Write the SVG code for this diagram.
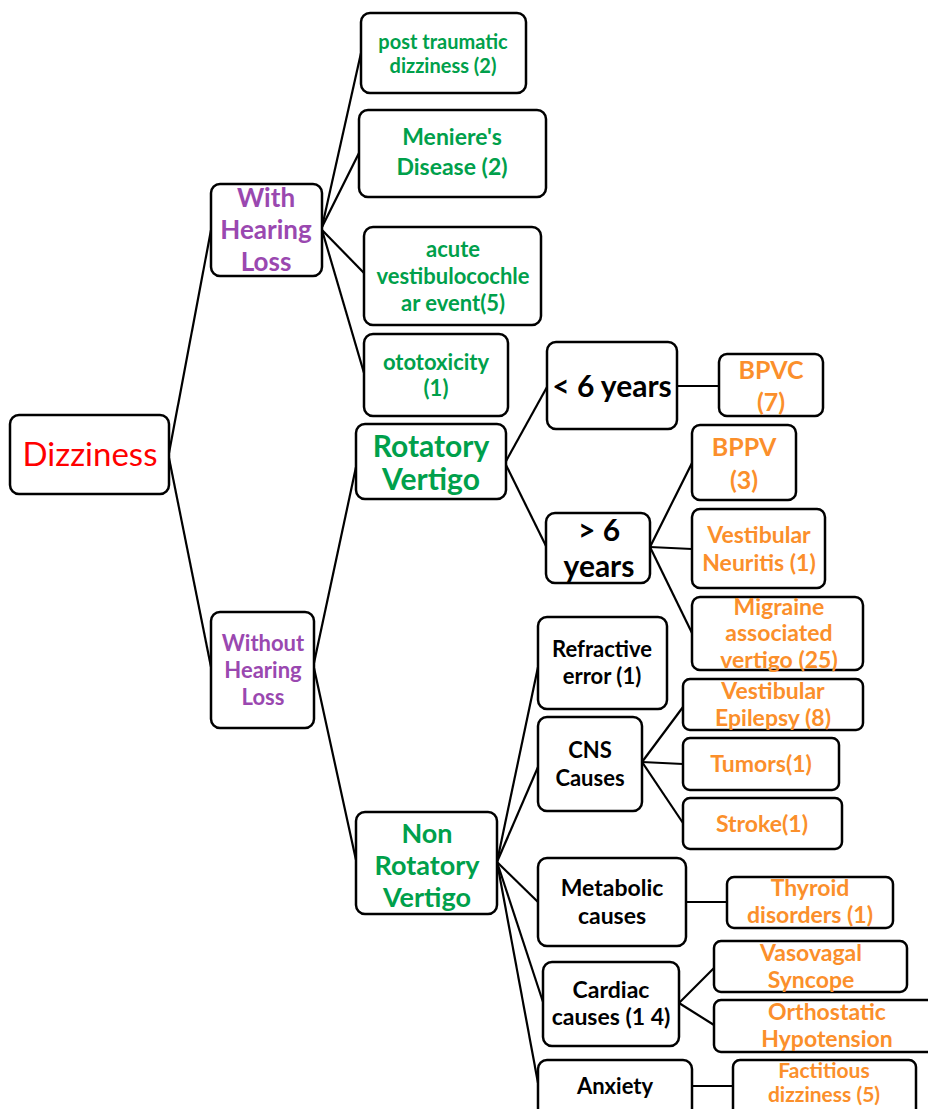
<svg xmlns="http://www.w3.org/2000/svg" width="928" height="1109" viewBox="0 0 928 1109">
<style>
.box{fill:#fff;stroke:#000;stroke-width:2.5}
.c{stroke:#000;stroke-width:2.2;fill:none}
text{font-family:Lato,"Liberation Sans",sans-serif;font-weight:bold;text-anchor:middle}
.r{fill:#ff0000;font-weight:normal}
.p{fill:#9a48b0}
.g{fill:#00a04b}
.o{fill:#fb8f2b}
.k{fill:#000}
</style>
<rect width="928" height="1109" fill="#fff"/>
<g id="connectors">
<line class="c" x1="169" y1="453" x2="211" y2="230"/>
<line class="c" x1="169" y1="458" x2="211" y2="667"/>
<line class="c" x1="322" y1="227" x2="361" y2="53"/>
<line class="c" x1="322" y1="227" x2="359" y2="153"/>
<line class="c" x1="322" y1="230" x2="364" y2="273"/>
<line class="c" x1="322" y1="230" x2="364" y2="373"/>
<line class="c" x1="314" y1="663" x2="356" y2="467"/>
<line class="c" x1="314" y1="668" x2="356" y2="860"/>
<line class="c" x1="505" y1="463" x2="547" y2="387"/>
<line class="c" x1="505" y1="463" x2="547" y2="548"/>
<line class="c" x1="677" y1="386" x2="719" y2="386"/>
<line class="c" x1="650" y1="547" x2="692" y2="463"/>
<line class="c" x1="650" y1="547" x2="692" y2="549"/>
<line class="c" x1="650" y1="547" x2="692" y2="633"/>
<line class="c" x1="497" y1="862" x2="538" y2="667"/>
<line class="c" x1="497" y1="862" x2="538" y2="767"/>
<line class="c" x1="497" y1="862" x2="538" y2="902"/>
<line class="c" x1="497" y1="862" x2="543" y2="1002"/>
<line class="c" x1="497" y1="862" x2="538" y2="1083"/>
<line class="c" x1="642" y1="762" x2="683" y2="707"/>
<line class="c" x1="642" y1="762" x2="683" y2="764"/>
<line class="c" x1="642" y1="762" x2="683" y2="823"/>
<line class="c" x1="686" y1="902" x2="727" y2="902"/>
<line class="c" x1="679" y1="1003" x2="714" y2="968"/>
<line class="c" x1="679" y1="1003" x2="714" y2="1025"/>
<line class="c" x1="692" y1="1086" x2="733" y2="1086"/>
</g>
<g id="dizziness"><rect class="box" x="10" y="415" width="159" height="79" rx="9"/><text class="r" x="90" y="466" font-size="33">Dizziness</text></g>
<g id="with-hl"><rect class="box" x="211" y="184" width="111" height="92" rx="9"/><text class="p" font-size="26"><tspan x="266" y="207">With</tspan><tspan x="266" y="239">Hearing</tspan><tspan x="266" y="271">Loss</tspan></text></g>
<g id="without-hl"><rect class="box" x="211" y="612" width="103" height="116" rx="9"/><text class="p" font-size="22"><tspan x="263" y="651">Without</tspan><tspan x="263" y="678">Hearing</tspan><tspan x="263" y="705">Loss</tspan></text></g>
<g id="post-traumatic"><rect class="box" x="361" y="13" width="165" height="80" rx="9"/><text class="g" font-size="20"><tspan x="443" y="49">post traumatic</tspan><tspan x="443" y="73">dizziness (2)</tspan></text></g>
<g id="meniere"><rect class="box" x="359" y="110" width="187" height="87" rx="9"/><text class="g" font-size="23"><tspan x="452" y="145">Meniere's</tspan><tspan x="452" y="175">Disease (2)</tspan></text></g>
<g id="acute"><rect class="box" x="364" y="227" width="177" height="98" rx="9"/><text class="g" font-size="22"><tspan x="453" y="257">acute</tspan><tspan x="453" y="284">vestibulocochle</tspan><tspan x="453" y="311">ar event(5)</tspan></text></g>
<g id="ototoxicity"><rect class="box" x="364" y="334" width="144" height="82" rx="9"/><text class="g" font-size="22"><tspan x="436" y="370">ototoxicity</tspan><tspan x="436" y="396">(1)</tspan></text></g>
<g id="rotatory"><rect class="box" x="356" y="424" width="150" height="75" rx="9"/><text class="g" font-size="30"><tspan x="431" y="457">Rotatory</tspan><tspan x="431" y="490">Vertigo</tspan></text></g>
<g id="non-rotatory"><rect class="box" x="356" y="812" width="141" height="102" rx="9"/><text class="g" font-size="27"><tspan x="427" y="843">Non</tspan><tspan x="427" y="875">Rotatory</tspan><tspan x="427" y="907">Vertigo</tspan></text></g>
<g id="lt6"><rect class="box" x="547" y="342" width="130" height="87" rx="9"/><text class="k" x="612" y="397" font-size="30">&lt; 6 years</text></g>
<g id="gt6"><rect class="box" x="546" y="513" width="104" height="70" rx="9"/><text class="k" font-size="30"><tspan x="599" y="541">&gt; 6</tspan><tspan x="599" y="577">years</tspan></text></g>
<g id="bpvc"><rect class="box" x="719" y="354" width="104" height="62" rx="8"/><text class="o" font-size="25"><tspan x="771" y="379">BPVC</tspan><tspan x="771" y="411">(7)</tspan></text></g>
<g id="bppv"><rect class="box" x="692" y="425" width="104" height="75" rx="8"/><text class="o" font-size="25"><tspan x="744" y="456">BPPV</tspan><tspan x="744" y="489">(3)</tspan></text></g>
<g id="neuritis"><rect class="box" x="692" y="509" width="133" height="79" rx="8"/><text class="o" font-size="23"><tspan x="759" y="543">Vestibular</tspan><tspan x="759" y="571">Neuritis (1)</tspan></text></g>
<g id="migraine"><rect class="box" x="692" y="597" width="171" height="73" rx="8"/><text class="o" font-size="23"><tspan x="779" y="615">Migraine</tspan><tspan x="779" y="641">associated</tspan><tspan x="779" y="668">vertigo (25)</tspan></text></g>
<g id="refractive"><rect class="box" x="538" y="617" width="129" height="92" rx="9"/><text class="k" font-size="22"><tspan x="602" y="657">Refractive</tspan><tspan x="602" y="684">error (1)</tspan></text></g>
<g id="cns"><rect class="box" x="538" y="717" width="104" height="94" rx="9"/><text class="k" font-size="22"><tspan x="590" y="758">CNS</tspan><tspan x="590" y="786">Causes</tspan></text></g>
<g id="epilepsy"><rect class="box" x="683" y="679" width="180" height="51" rx="7"/><text class="o" font-size="23"><tspan x="773" y="699">Vestibular</tspan><tspan x="773" y="726">Epilepsy (8)</tspan></text></g>
<g id="tumors"><rect class="box" x="683" y="738" width="156" height="52" rx="7"/><text class="o" x="761" y="772" font-size="23">Tumors(1)</text></g>
<g id="stroke"><rect class="box" x="683" y="798" width="159" height="51" rx="7"/><text class="o" x="762" y="832" font-size="23">Stroke(1)</text></g>
<g id="metabolic"><rect class="box" x="538" y="858" width="148" height="88" rx="9"/><text class="k" font-size="23"><tspan x="612" y="896">Metabolic</tspan><tspan x="612" y="924">causes</tspan></text></g>
<g id="thyroid"><rect class="box" x="727" y="877" width="166" height="51" rx="7"/><text class="o" font-size="23"><tspan x="810" y="896">Thyroid</tspan><tspan x="810" y="923">disorders (1)</tspan></text></g>
<g id="cardiac"><rect class="box" x="543" y="962" width="136" height="84" rx="9"/><text class="k" font-size="23"><tspan x="611" y="998">Cardiac</tspan><tspan x="611" y="1025">causes (1 4)</tspan></text></g>
<g id="vasovagal"><rect class="box" x="714" y="941" width="193" height="51" rx="7"/><text class="o" font-size="23"><tspan x="811" y="961">Vasovagal</tspan><tspan x="811" y="988">Syncope</tspan></text></g>
<g id="orthostatic"><rect class="box" x="714" y="1000" width="230" height="52" rx="7"/><text class="o" font-size="23"><tspan x="827" y="1020">Orthostatic</tspan><tspan x="827" y="1047">Hypotension</tspan></text></g>
<g id="anxiety"><rect class="box" x="538" y="1060" width="154" height="70" rx="9"/><text class="k" x="615" y="1094" font-size="22">Anxiety</text></g>
<g id="factitious"><rect class="box" x="733" y="1060" width="183" height="70" rx="7"/><text class="o" font-size="21"><tspan x="824" y="1078">Factitious</tspan><tspan x="824" y="1102">dizziness (5)</tspan></text></g>
</svg>
